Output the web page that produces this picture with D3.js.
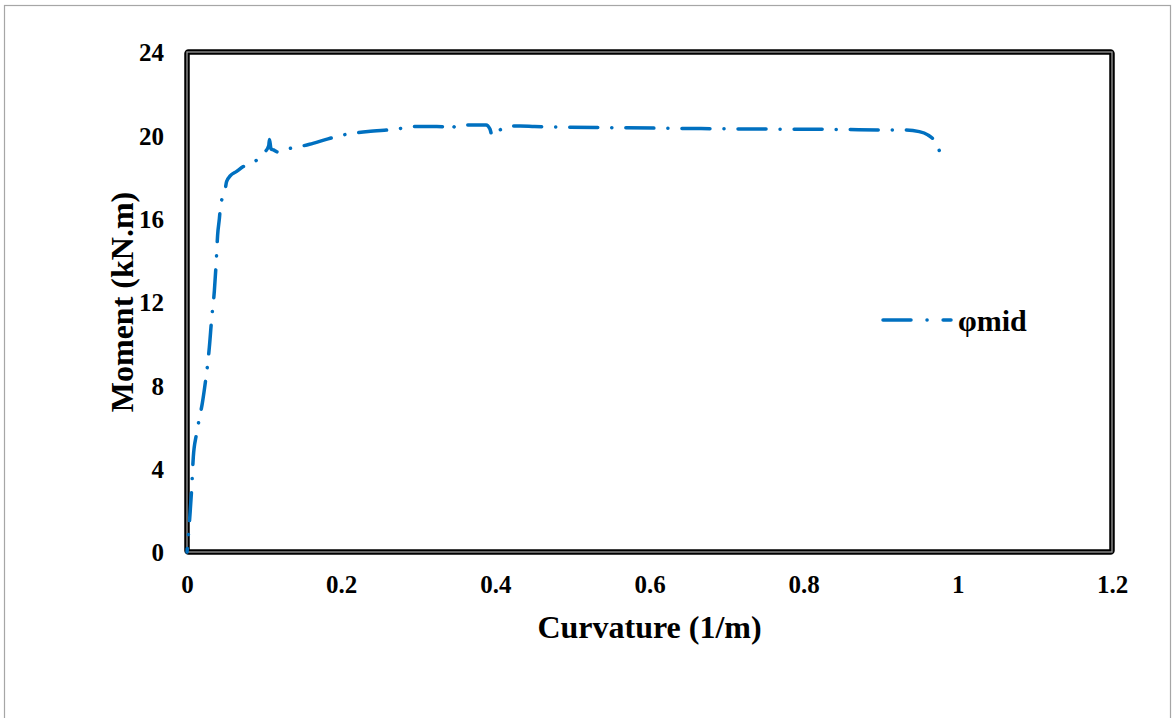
<!DOCTYPE html>
<html>
<head>
<meta charset="utf-8">
<script src="https://cdn.jsdelivr.net/npm/d3@7"></script>
<style>
  html, body { margin: 0; padding: 0; background: #fff; }
  svg { display: block; }
  text { font-family: "Liberation Serif", "Times New Roman", serif; font-weight: bold; fill: #000; }
</style>
</head>
<body>
<svg id="chart" width="1172" height="718"></svg>
<script>
// Moment–curvature response at mid-span
const curvature = [0, 0.002, 0.004, 0.006, 0.0082, 0.012, 0.016, 0.020, 0.024, 0.027, 0.029, 0.032, 0.0355, 0.038, 0.0397, 0.042, 0.0436, 0.046, 0.049, 0.0514, 0.056, 0.064, 0.073, 0.082, 0.090, 0.096, 0.101, 0.106, 0.107, 0.109, 0.112, 0.118, 0.131, 0.145, 0.159, 0.183, 0.207, 0.235, 0.272, 0.293, 0.324, 0.338, 0.343, 0.348, 0.367, 0.388, 0.393, 0.396, 0.400, 0.406, 0.419, 0.432, 0.451, 0.483, 0.55, 0.65, 0.75, 0.85, 0.902, 0.931, 0.950, 0.961, 0.971, 0.977];
const moment = [0, 0.9, 1.87, 3.0, 4.57, 5.6, 6.4, 7.17, 8.2, 9.09, 9.83, 11.2, 12.53, 14.0, 15.2, 16.0, 16.66, 17.0, 17.3, 17.78, 18.05, 18.26, 18.5, 18.65, 18.8, 19.0, 19.2, 19.5, 19.8, 19.35, 19.3, 19.2, 19.35, 19.45, 19.57, 19.83, 20.05, 20.18, 20.3, 20.42, 20.42, 20.4, 20.26, 20.45, 20.5, 20.5, 20.3, 19.97, 20.15, 20.26, 20.45, 20.45, 20.42, 20.4, 20.37, 20.33, 20.3, 20.28, 20.26, 20.26, 20.18, 20.02, 19.67, 19.17];
const seriesName = "φmid";
const xTicks = [0, 0.2, 0.4, 0.6, 0.8, 1, 1.2];
const yTicks = [0, 4, 8, 12, 16, 20, 24];
const xTitle = "Curvature (1/m)";
const yTitle = "Moment (kN.m)";

const svg = d3.select("#chart");
const plot = { left: 187, top: 52, right: 1112, bottom: 552 };
const lineColor = "#0070C0";
const dashPattern = [28, 14, 0.1, 14];
const dash = dashPattern.join(",");
const dashPeriod = d3.sum(dashPattern);

// outer chart border
svg.append("rect")
  .attr("x", 4.5).attr("y", 5.5).attr("width", 1166).attr("height", 730)
  .attr("fill", "#fff").attr("stroke", "#a6a6a6").attr("stroke-width", 1.2);

const x = d3.scaleLinear().domain([0, 1.2]).range([plot.left, plot.right]);
const y = d3.scaleLinear().domain([0, 24]).range([plot.bottom, plot.top]);

// plot frame: heavy black with a thin grey inner line
const fw = plot.right - plot.left, fh = plot.bottom - plot.top;
svg.append("rect")
  .attr("x", plot.left).attr("y", plot.top).attr("width", fw).attr("height", fh)
  .attr("fill", "none").attr("stroke", "#000").attr("stroke-width", 5.5)
  .attr("rx", 1.5);
svg.append("rect")
  .attr("x", plot.left).attr("y", plot.top).attr("width", fw).attr("height", fh)
  .attr("fill", "none").attr("stroke", "#9a9a9a").attr("stroke-width", 1.3);

// axes (labels only, no tick marks)
const xAxis = d3.axisBottom(x).tickValues(xTicks).tickSize(0).tickPadding(0)
  .tickFormat(d => String(d));
const gx = svg.append("g").attr("transform", `translate(0,${plot.bottom + 41})`).call(xAxis);
gx.select(".domain").remove();
gx.selectAll("text").attr("font-size", 25).attr("dy", "0")
  .style("font-family", '"Liberation Serif", serif').style("font-weight", "bold");

const yAxis = d3.axisLeft(y).tickValues(yTicks).tickSize(0).tickPadding(0)
  .tickFormat(d => String(d));
const gy = svg.append("g").attr("transform", `translate(${plot.left - 23},0)`).call(yAxis);
gy.select(".domain").remove();
gy.selectAll("text").attr("font-size", 25).attr("dy", "0.35em")
  .style("font-family", '"Liberation Serif", serif').style("font-weight", "bold");

// axis titles
svg.append("text")
  .attr("x", (plot.left + plot.right) / 2).attr("y", 638)
  .attr("text-anchor", "middle").attr("font-size", 32)
  .text(xTitle);
svg.append("text")
  .attr("transform", `translate(133,${(plot.top + plot.bottom) / 2}) rotate(-90)`)
  .attr("text-anchor", "middle").attr("font-size", 32)
  .text(yTitle);

// data line
const pts = curvature.map((c, i) => [c, moment[i]]);
const line = d3.line().x(d => x(d[0])).y(d => y(d[1])).curve(d3.curveMonotoneX);
const path = svg.append("path")
  .datum(pts)
  .attr("d", line)
  .attr("fill", "none")
  .attr("stroke", lineColor)
  .attr("stroke-width", 3.5)
  .attr("stroke-linecap", "round")
  .attr("stroke-dasharray", dash);
// phase the pattern so the last mark is a dot just before the end:
// pattern position at distance s is (s + dashoffset) mod period
const L = path.node().getTotalLength();
const endPhase = dashPattern[0] + dashPattern[1] + dashPattern[2] + 3;
const offset = ((endPhase - L) % dashPeriod + dashPeriod) % dashPeriod;
path.attr("stroke-dashoffset", offset);

// legend
const lg = svg.append("g").attr("transform", "translate(883,320)");
lg.append("line")
  .attr("x1", 0).attr("x2", 68).attr("y1", 0).attr("y2", 0)
  .attr("stroke", lineColor).attr("stroke-width", 3.5)
  .attr("stroke-linecap", "round").attr("stroke-dasharray", "28,16,0.1,16");
lg.append("text")
  .attr("x", 75).attr("y", 0).attr("dy", "0.35em")
  .attr("font-size", 30)
  .text(seriesName);
</script>
</body>
</html>
